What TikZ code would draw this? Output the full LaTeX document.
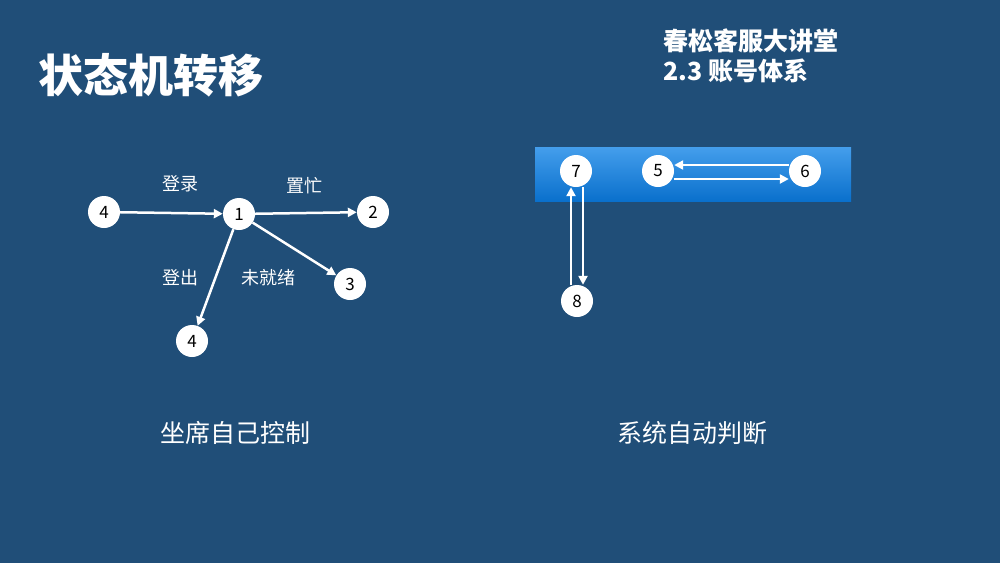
\documentclass[tikz,border=0pt]{standalone}
\usepackage{fontspec}
\newfontfamily\cjk{Noto Sans CJK SC}
\newfontfamily\cjkm{Noto Sans CJK SC Medium}
\usetikzlibrary{arrows.meta}
\definecolor{bg}{HTML}{204E78}
\definecolor{bartop}{HTML}{449EEC}
\definecolor{barbot}{HTML}{0A70CC}
\begin{document}
\begin{tikzpicture}[x=1pt,y=-1pt,
  st/.style={circle,fill=white,minimum size=32pt,inner sep=0pt,font=\cjk\fontsize{17}{17}\selectfont},
  lbl/.style={text=white,font=\cjk\fontsize{18}{18}\selectfont},
  arr/.style={draw=white,line width=2.5pt,-{Triangle[length=9pt,width=9pt]}}]
\fill[bg] (0,0) rectangle (1000,563);
\useasboundingbox (0,0) rectangle (1000,563);
\shade[top color=bartop,bottom color=barbot] (535,147) rectangle (851,201);
\node[text=white,font=\cjk\bfseries\fontsize{45}{45}\selectfont] (title) at (151,75) {状态机转移};
\node[text=white,anchor=west,font=\cjk\bfseries\fontsize{25}{25}\selectfont] (t1) at (660,41) {春松客服大讲堂};
\node[text=white,anchor=west,font=\cjk\bfseries\fontsize{25}{25}\selectfont] (t2) at (660,71) {2.3 账号体系};
\node[st] (a4) at (104,212) {4};
\node[st] (n1) at (239,214) {1};
\node[st] (n2) at (373,212) {2};
\node[st] (n3) at (350,284) {3};
\node[st] (b4) at (192,341) {4};
\node[st] (n7) at (576,171) {7};
\node[st] (n5) at (658,171) {5};
\node[st] (n6) at (805,171) {6};
\node[st] (n8) at (577,301) {8};
\draw[arr] (a4) -- (n1);
\draw[arr] (n1) -- (n2);
\draw[arr] (n1) -- (n3);
\draw[arr] (n1) -- (b4);
\draw[arr] (n6.west|-0,165) -- (n5.east|-0,165);
\draw[arr] (n5.east|-0,179) -- (n6.west|-0,179);
\draw[arr] (571,0|-n8.north) -- (571,0|-n7.south);
\draw[arr] (583,0|-n7.south) -- (583,0|-n8.north);
\node[lbl] (l1) at (180,184) {登录};
\node[lbl] (l2) at (304,186) {置忙};
\node[lbl] (l3) at (180,278) {登出};
\node[lbl] (l4) at (268,278) {未就绪};
\node[text=white,font=\cjk\fontsize{25}{25}\selectfont] (c1) at (235,433) {坐席自己控制};
\node[text=white,font=\cjk\fontsize{25}{25}\selectfont] (c2) at (692,433) {系统自动判断};
\end{tikzpicture}
\end{document}
